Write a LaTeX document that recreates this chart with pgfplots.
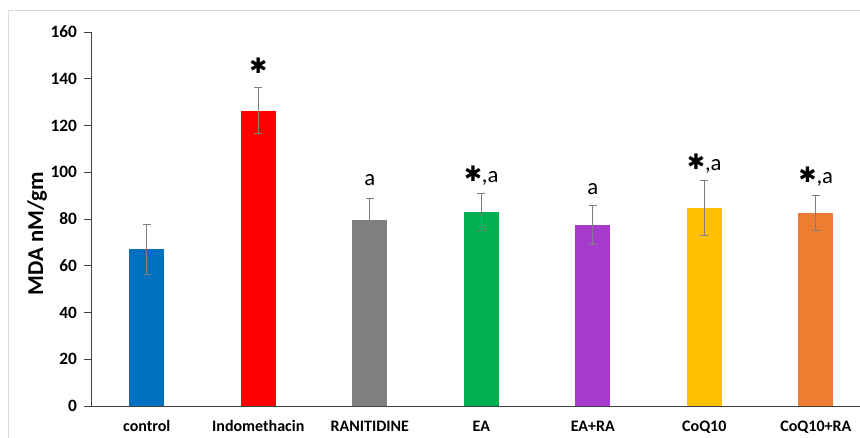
\documentclass[border=0pt]{standalone}
\usepackage{pgfplots}
\pgfplotsset{compat=1.18}
\usepackage{fontspec}
\setmainfont{Carlito}
\newfontfamily\symfont{DejaVu Sans}

\definecolor{cControl}{HTML}{0070C0}
\definecolor{cIndo}{HTML}{FF0000}
\definecolor{cRan}{HTML}{7F7F7F}
\definecolor{cEA}{HTML}{00B050}
\definecolor{cEARA}{HTML}{A63BCE}
\definecolor{cCoQ}{HTML}{FFC000}
\definecolor{cCoQRA}{HTML}{ED7D31}
\definecolor{frameGray}{HTML}{D9D9D9}
\definecolor{axisGray}{HTML}{404040}
\definecolor{errGray}{HTML}{7F7F7F}

\newcommand{\sig}{{\symfont\bfseries\fontsize{16pt}{16pt}\selectfont\raisebox{0.5pt}{✱}}}

\begin{document}
\begin{tikzpicture}[x=0.75pt,y=0.75pt]
\useasboundingbox (0,0) rectangle (860,438);
% outer frame
\draw[frameGray, line width=0.6pt] (8,0) -- (8,428) -- (860,428);
\begin{axis}[
  at={(91*0.75pt,32*0.75pt)}, anchor=south west,
  scale only axis,
  width=769*0.75pt, height=374*0.75pt,
  xmin=-0.5, xmax=6.396,
  ymin=0, ymax=160,
  ytick={0,20,...,160},
  xtick={0,...,6},
  xticklabels={control,Indomethacin,RANITIDINE,EA,EA+RA,CoQ10,CoQ10+RA},
  axis x line*=bottom, axis y line*=left,
  axis line style={axisGray, line width=0.7pt},
  x axis line style={-}, y axis line style={-},
  ytick style={axisGray, line width=0.7pt},
  xtick style={draw=none},
  tick align=outside,
  major tick length=5pt,
  /pgf/number format/assume math mode=true,
  yticklabel style={font=\bfseries\fontsize{13pt}{13pt}\selectfont, xshift=-2pt},
  xticklabel style={font=\bfseries\fontsize{12pt}{12pt}\selectfont, yshift=-2.5pt},
  ylabel={MDA nM/gm},
  ylabel style={font=\bfseries\fontsize{17pt}{17pt}\selectfont, at={(axis description cs:-0.07,0.46)}, anchor=center},
  clip=false,
  error bars/error bar style={errGray, line width=0.6pt},
  error bars/error mark options={rotate=90, errGray, mark size=3pt, line width=0.6pt},
]
\addplot[ybar, bar width=26.25pt, fill=cControl, draw=none, error bars/.cd, y dir=both, y explicit]
  coordinates {(0,67.0) +- (0,10.6)};
\addplot[ybar, bar width=26.25pt, fill=cIndo, draw=none, error bars/.cd, y dir=both, y explicit]
  coordinates {(1,126.3) +- (0,9.8)};
\addplot[ybar, bar width=26.25pt, fill=cRan, draw=none, error bars/.cd, y dir=both, y explicit]
  coordinates {(2,79.6) +- (0,9.0)};
\addplot[ybar, bar width=26.25pt, fill=cEA, draw=none, error bars/.cd, y dir=both, y explicit]
  coordinates {(3,83.0) +- (0,7.9)};
\addplot[ybar, bar width=26.25pt, fill=cEARA, draw=none, error bars/.cd, y dir=both, y explicit]
  coordinates {(4,77.5) +- (0,8.5)};
\addplot[ybar, bar width=26.25pt, fill=cCoQ, draw=none, error bars/.cd, y dir=both, y explicit]
  coordinates {(5,84.6) +- (0,11.7)};
\addplot[ybar, bar width=26.25pt, fill=cCoQRA, draw=none, error bars/.cd, y dir=both, y explicit]
  coordinates {(6,82.6) +- (0,7.4)};

% significance marks
\node at (axis cs:1,145.3) {\sig};
\node[font=\fontsize{17pt}{17pt}\selectfont] at (axis cs:2,96.7) {a};
\node[font=\fontsize{17pt}{17pt}\selectfont] at (axis cs:3,98.5) {\sig,a};
\node[font=\fontsize{17pt}{17pt}\selectfont] at (axis cs:4,92.8) {a};
\node[font=\fontsize{17pt}{17pt}\selectfont] at (axis cs:5,103.8) {\sig,a};
\node[font=\fontsize{17pt}{17pt}\selectfont] at (axis cs:6,98.1) {\sig,a};
\end{axis}
\end{tikzpicture}
\end{document}
